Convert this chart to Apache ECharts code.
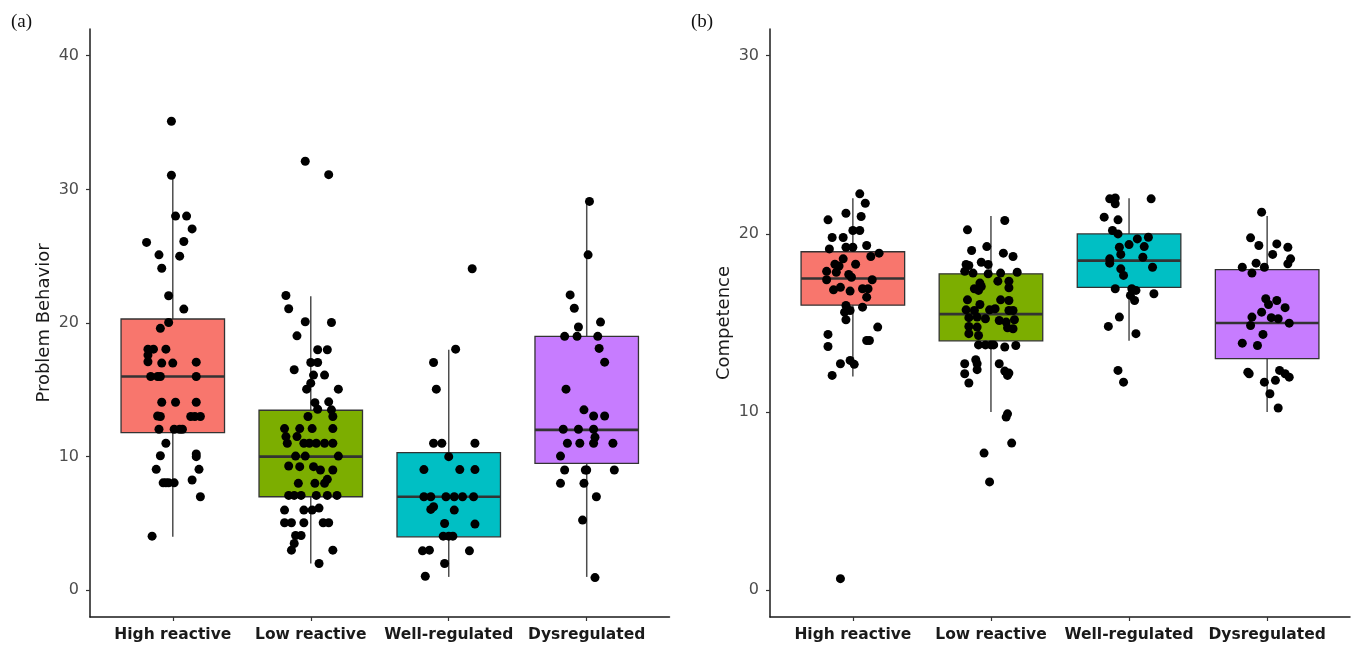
<!DOCTYPE html>
<html>
<head>
<meta charset="utf-8">
<title>Problem Behavior / Competence</title>
<script src="https://cdn.jsdelivr.net/npm/echarts@6/dist/echarts.min.js"></script>
<style>
  html, body { margin: 0; padding: 0; background: #fff; }
  #chart { width: 1357px; height: 650px; }
</style>
</head>
<body>
<div id="chart"></div>
<script>
// categories and fills (ggplot default hues)
var categories = ['High reactive', 'Low reactive', 'Well-regulated', 'Dysregulated'];
var fills = ['#F8766D', '#7CAE00', '#00BFC4', '#C77CFF'];

// box stats: [lower whisker, Q1, median, Q3, upper whisker]
var problemBoxes = [
    [4, 11.8, 16, 20.3, 31],
    [2, 7, 10, 13.47, 22],
    [1, 4, 7, 10.3, 18],
    [1, 9.5, 12, 19, 29]
];
var competenceBoxes = [
    [12, 16, 17.5, 19, 22],
    [10, 14, 15.5, 17.76, 21],
    [14, 17, 18.5, 20, 22],
    [10, 13, 15, 18, 21]
];

// jittered points: [horizontal jitter (category units), value]
var problemHigh = [
    [-0.01,35.1],[-0.01,31.06],[0.02,28.0],[0.10,28.0],[0.14,27.04],[-0.19,26.03],[0.08,26.1],
    [-0.10,25.1],[0.05,25.0],[-0.08,24.1],[-0.03,22.04],[0.08,21.04],[-0.03,20.04],[-0.09,19.6],
    [-0.18,18.04],[-0.14,18.04],[-0.05,18.04],[-0.18,17.6],[-0.18,17.1],[-0.08,17.0],[0.0,17.0],[0.17,17.07],
    [-0.16,16.0],[-0.11,16.0],[-0.09,16.0],[0.17,16.0],
    [-0.08,14.07],[0.02,14.07],[0.17,14.07],
    [-0.11,13.04],[-0.09,13.0],[0.13,13.0],[0.16,13.0],[0.20,13.0],
    [-0.10,12.05],[0.01,12.05],[0.05,12.05],[0.07,12.05],
    [-0.05,11.0],[-0.09,10.07],[0.17,10.2],[0.17,10.0],[-0.12,9.05],[0.19,9.05],
    [-0.07,8.04],[-0.05,8.04],[-0.03,8.04],[0.01,8.04],[0.14,8.25],[0.20,7.0],[-0.15,4.05]
];
var problemLow = [
    [-0.04,32.1],[0.13,31.1],
    [-0.18,22.06],[-0.16,21.07],[-0.04,20.09],[0.15,20.04],[-0.10,19.04],[0.05,18.0],[0.12,18.0],
    [0.0,17.04],[0.05,17.04],[-0.12,16.5],[0.02,16.1],[0.10,16.1],[0.0,15.5],[-0.03,15.05],[0.20,15.05],
    [0.03,14.04],[0.13,14.1],[0.05,13.55],[0.15,13.5],[-0.02,13.0],[0.16,13.0],
    [-0.19,12.1],[-0.08,12.1],[0.01,12.1],[0.16,12.1],[-0.18,11.5],[-0.10,11.5],
    [-0.17,11.0],[-0.05,11.0],[-0.01,11.0],[0.04,11.0],[0.10,11.0],[0.16,11.0],
    [-0.11,10.04],[-0.04,10.04],[0.20,10.04],
    [-0.16,9.3],[-0.08,9.25],[0.02,9.25],[0.07,9.0],[0.16,9.0],
    [-0.09,8.0],[0.03,8.0],[0.10,8.0],[0.12,8.3],
    [-0.16,7.1],[-0.12,7.1],[-0.07,7.1],[0.04,7.1],[0.12,7.1],[0.19,7.1],
    [-0.19,6.0],[-0.05,6.0],[0.01,6.0],[0.06,6.15],
    [-0.19,5.05],[-0.14,5.05],[-0.05,5.05],[0.09,5.05],[0.13,5.05],
    [-0.11,4.1],[-0.07,4.1],[-0.12,3.5],[-0.14,3.0],[0.16,3.0],[0.06,2.0]
];
var problemWell = [
    [0.17,24.06],[0.05,18.04],[-0.11,17.04],[-0.09,15.05],[-0.11,11.0],[-0.05,11.0],[0.19,11.0],
    [0.0,10.0],[-0.18,9.03],[0.08,9.03],[0.19,9.03],
    [-0.18,7.0],[-0.13,7.0],[-0.02,7.0],[0.04,7.0],[0.10,7.0],[0.18,7.0],
    [-0.13,6.05],[-0.11,6.25],[0.04,6.0],[-0.03,5.0],[0.19,4.95],[-0.04,4.05],[0.0,4.05],[0.03,4.05],
    [-0.19,2.95],[-0.14,3.0],[0.15,2.95],[-0.03,2.0],[-0.17,1.05]
];
var problemDys = [
    [0.02,29.1],[0.01,25.1],[-0.12,22.1],[-0.09,21.1],[-0.06,19.7],[0.10,20.07],
    [-0.16,19.0],[-0.07,19.0],[0.08,19.0],[0.09,18.1],[0.13,17.07],[-0.15,15.05],[-0.02,13.5],
    [0.05,13.04],[0.13,13.04],[-0.17,12.05],[-0.06,12.05],[0.05,12.05],[0.06,11.45],
    [-0.14,11.0],[-0.05,11.0],[0.05,11.0],[0.19,11.0],[-0.19,10.04],
    [-0.16,9.0],[-0.01,9.0],[0.0,9.0],[0.20,9.0],[-0.19,8.0],[-0.02,8.0],[0.07,7.0],[-0.03,5.25],[0.06,0.95]
];

var competenceHigh = [
    [0.05,22.25],[0.09,21.72],[-0.18,20.79],[-0.05,21.16],[0.06,20.98],[0.0,20.19],[0.05,20.19],
    [-0.15,19.8],[-0.07,19.8],[-0.17,19.16],[-0.05,19.25],[0.0,19.25],[0.10,19.35],[0.13,18.73],[0.19,18.92],
    [-0.07,18.6],[-0.13,18.3],[-0.10,18.2],[0.02,18.3],[-0.19,17.9],[-0.12,17.85],[-0.03,17.72],[-0.01,17.57],
    [-0.19,17.43],[0.14,17.43],[-0.14,16.86],[-0.09,17.0],[-0.02,16.79],[0.07,16.92],[0.11,16.92],[0.10,16.45],
    [0.07,15.89],[-0.05,15.98],[-0.02,15.7],[-0.06,15.61],[-0.05,15.18],[0.18,14.77],[-0.18,14.36],
    [0.10,14.02],[0.12,14.02],[-0.18,13.68],[-0.02,12.9],[0.01,12.68],[-0.09,12.71],[-0.15,12.06],[-0.09,0.65]
];
var competenceLow = [
    [0.10,20.75],[-0.17,20.23],[-0.03,19.29],[-0.14,19.07],[0.09,18.92],[0.16,18.73],[-0.07,18.41],[-0.02,18.28],
    [-0.18,18.28],[-0.16,18.23],[-0.19,17.9],[-0.13,17.8],[-0.02,17.76],[0.07,17.8],[0.19,17.85],[0.05,17.35],
    [-0.08,17.24],[-0.07,17.05],[0.13,17.35],[0.13,16.98],[-0.12,16.92],[-0.09,16.83],[-0.17,16.3],
    [0.07,16.3],[0.13,16.26],[-0.08,16.04],[-0.18,15.74],[-0.12,15.7],[-0.01,15.74],[0.03,15.8],
    [0.13,15.7],[0.16,15.7],[-0.16,15.3],[-0.10,15.33],[-0.04,15.24],[0.06,15.14],[0.11,15.05],[0.17,15.18],
    [-0.16,14.81],[-0.10,14.77],[0.12,14.73],[0.16,14.68],[-0.16,14.4],[-0.09,14.3],
    [-0.09,13.77],[-0.04,13.77],[0.0,13.77],[0.02,13.77],[0.10,13.65],[0.18,13.74],
    [-0.11,12.94],[-0.10,12.71],[-0.19,12.71],[0.06,12.71],[-0.10,12.38],[-0.19,12.15],
    [0.10,12.3],[0.13,12.19],[0.12,12.06],[-0.16,11.63],
    [0.12,9.9],[0.11,9.72],[0.15,8.26],[-0.05,7.7],[-0.01,6.08]
];
var competenceWell = [
    [-0.14,21.97],[-0.10,22.02],[-0.10,21.69],[0.16,21.97],[-0.18,20.94],[-0.08,20.79],[-0.12,20.19],
    [-0.08,20.0],[0.06,19.72],[0.14,19.81],[0.0,19.4],[-0.07,19.25],[0.11,19.29],[-0.06,18.85],
    [0.10,18.69],[-0.14,18.6],[-0.14,18.36],[0.17,18.13],[-0.06,18.04],[-0.04,17.67],
    [-0.10,16.92],[0.02,16.92],[0.05,16.83],[0.18,16.64],[0.01,16.55],[0.04,16.26],
    [-0.07,15.33],[-0.15,14.81],[0.05,14.4],[-0.08,12.34],[-0.04,11.68]
];
var competenceDys = [
    [-0.04,21.22],[-0.12,19.78],[-0.06,19.35],[0.07,19.44],[0.15,19.25],[0.04,18.85],[0.17,18.6],
    [0.15,18.32],[-0.08,18.36],[-0.02,18.13],[-0.18,18.13],[-0.11,17.8],[-0.01,16.36],[0.01,16.04],
    [0.07,16.26],[0.13,15.86],[-0.04,15.61],[-0.11,15.33],[0.03,15.3],[0.08,15.24],[-0.12,14.86],
    [0.16,14.99],[-0.03,14.36],[-0.18,13.87],[-0.07,13.74],[-0.14,12.24],[-0.13,12.15],
    [0.09,12.34],[0.13,12.15],[0.16,11.96],[-0.02,11.68],[0.06,11.78],[0.02,11.03],[0.08,10.23]
];

var problemTicks = [0, 10, 20, 30, 40];
var competenceTicks = [0, 10, 20, 30];

var axisColor = '#1a1a1a';
var boxEdge = '#333333';
var catPos = [1, 2, 3, 4];

// turn [jitter, value] groups into [x, y] scatter points
function jitterPoints(groups) {
    var out = [];
    for (var g = 0; g < groups.length; g++) {
        for (var i = 0; i < groups[g].length; i++) {
            out.push([catPos[g] + groups[g][i][0], groups[g][i][1]]);
        }
    }
    return out;
}

function boxData(stats) {
    return stats.map(function (s, i) {
        return [catPos[i]].concat(s);
    });
}

// draw one ggplot style box with whiskers
function renderBox(params, api) {
    var x = api.value(0);
    var lo = api.value(1), q1 = api.value(2), med = api.value(3), q3 = api.value(4), hi = api.value(5);
    var half = 0.375;
    var tl = api.coord([x - half, q3]);
    var br = api.coord([x + half, q1]);
    var mL = api.coord([x - half, med]);
    var mR = api.coord([x + half, med]);
    var top = api.coord([x, hi]);
    var topBox = api.coord([x, q3]);
    var bot = api.coord([x, lo]);
    var botBox = api.coord([x, q1]);
    return {
        type: 'group',
        children: [
            { type: 'line', shape: { x1: top[0], y1: top[1], x2: topBox[0], y2: topBox[1] },
              style: { stroke: '#4d4d4d', lineWidth: 1.5 } },
            { type: 'line', shape: { x1: bot[0], y1: bot[1], x2: botBox[0], y2: botBox[1] },
              style: { stroke: '#4d4d4d', lineWidth: 1.5 } },
            { type: 'rect', shape: { x: tl[0], y: tl[1], width: br[0] - tl[0], height: br[1] - tl[1] },
              style: { fill: fills[params.dataIndex], stroke: boxEdge, lineWidth: 1.3 } },
            { type: 'line', shape: { x1: mL[0], y1: mL[1], x2: mR[0], y2: mR[1] },
              style: { stroke: boxEdge, lineWidth: 2.6 } }
        ]
    };
}

function makeXAxis(gridIndex) {
    return {
        type: 'value', gridIndex: gridIndex, min: 0.4, max: 4.6,
        splitLine: { show: false },
        axisLine: { show: true, onZero: false, lineStyle: { color: axisColor, width: 1.5 } },
        axisTick: { show: true, customValues: catPos, length: 4, lineStyle: { color: '#333', width: 1.2 } },
        axisLabel: {
            customValues: catPos, margin: 10,
            formatter: function (v) { return categories[Math.round(v) - 1]; },
            color: '#1a1a1a', fontFamily: 'DejaVu Sans', fontWeight: 'bold', fontSize: 15.5
        }
    };
}

function makeYAxis(gridIndex, name, min, max, ticks) {
    return {
        type: 'value', gridIndex: gridIndex, min: min, max: max,
        name: name, nameLocation: 'middle', nameGap: 37,
        nameTextStyle: { color: '#1a1a1a', fontFamily: 'DejaVu Sans', fontSize: 18 },
        splitLine: { show: false },
        axisLine: { show: true, onZero: false, lineStyle: { color: axisColor, width: 1.5 } },
        axisTick: { show: true, customValues: ticks, length: 4, lineStyle: { color: '#333', width: 1.2 } },
        axisLabel: { customValues: ticks, margin: 11, color: '#4d4d4d', fontFamily: 'DejaVu Sans', fontSize: 16 }
    };
}

var chart = echarts.init(document.getElementById('chart'));
chart.setOption({
    animation: false,
    backgroundColor: '#fff',
    title: [
        { text: '(a)', left: 6, top: 8, textStyle: { fontFamily: 'Liberation Serif', fontWeight: 'normal', fontSize: 19, color: '#111' } },
        { text: '(b)', left: 686, top: 8, textStyle: { fontFamily: 'Liberation Serif', fontWeight: 'normal', fontSize: 19, color: '#111' } }
    ],
    grid: [
        { left: 90, right: 687.5, top: 29, bottom: 33 },
        { left: 770, right: 7, top: 29, bottom: 33 }
    ],
    xAxis: [makeXAxis(0), makeXAxis(1)],
    yAxis: [
        makeYAxis(0, 'Problem Behavior', -2, 42, problemTicks),
        makeYAxis(1, 'Competence', -1.5, 31.5, competenceTicks)
    ],
    series: [
        { type: 'custom', xAxisIndex: 0, yAxisIndex: 0, renderItem: renderBox, data: boxData(problemBoxes), z: 2 },
        { type: 'custom', xAxisIndex: 1, yAxisIndex: 1, renderItem: renderBox, data: boxData(competenceBoxes), z: 2 },
        { type: 'scatter', xAxisIndex: 0, yAxisIndex: 0, symbolSize: 9, itemStyle: { color: '#000', opacity: 1 }, z: 5,
          data: jitterPoints([problemHigh, problemLow, problemWell, problemDys]) },
        { type: 'scatter', xAxisIndex: 1, yAxisIndex: 1, symbolSize: 9, itemStyle: { color: '#000', opacity: 1 }, z: 5,
          data: jitterPoints([competenceHigh, competenceLow, competenceWell, competenceDys]) }
    ]
});
</script>
</body>
</html>
